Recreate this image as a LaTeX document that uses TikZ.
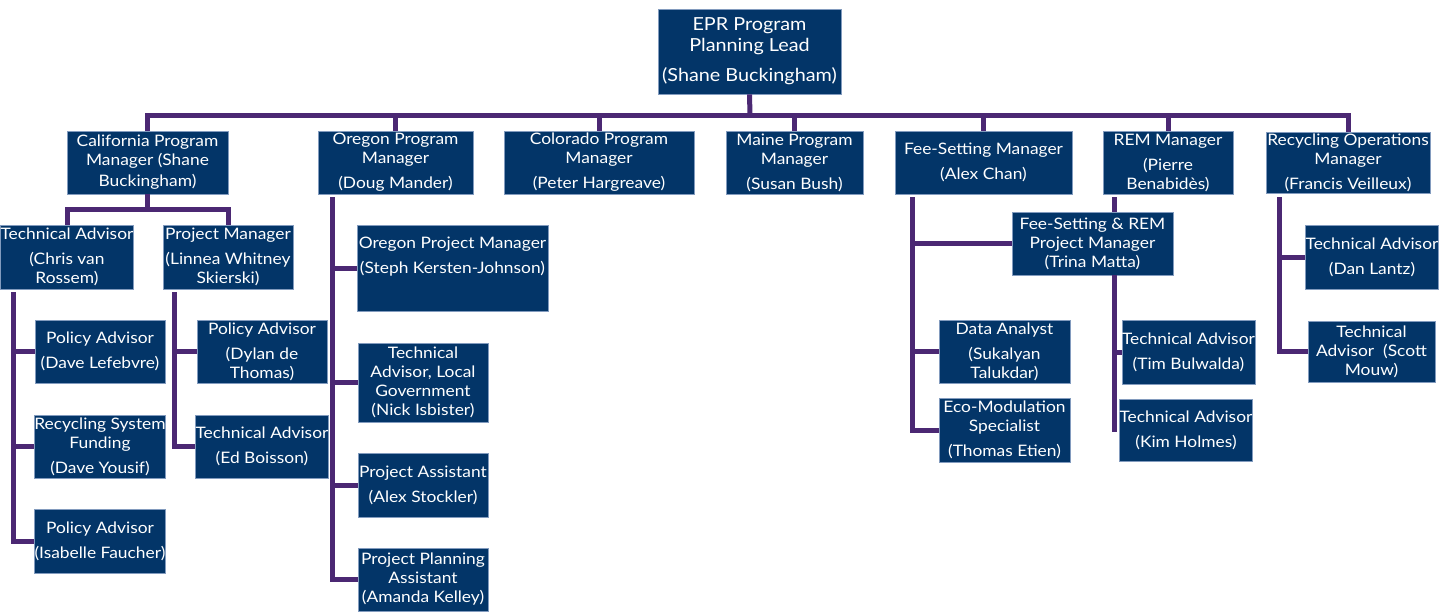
\documentclass[tikz,border=0pt]{standalone}
\usepackage{fontspec}
\setmainfont{Lato}[FakeStretch=1.1]
\usetikzlibrary{calc}
\definecolor{boxfill}{RGB}{3,53,104}
\definecolor{boxedge}{RGB}{130,155,190}
\definecolor{conncol}{RGB}{75,40,115}
\begin{document}
\begin{tikzpicture}[x=1pt,y=-1pt,
  box/.style={draw=boxedge, line width=0.8pt, fill=boxfill, text=white, align=center, inner sep=0pt,
    font=\fontsize{15.8}{19}\selectfont},
  bigbox/.style={box, font=\fontsize{18}{21}\selectfont},
  conn/.style={draw=conncol, line width=5pt}]
\useasboundingbox (0,0) rectangle (1452,611);
% level 0
\node[bigbox, minimum width=183, minimum height=85] (epr) at (749.5,51.5) {EPR Program\\Planning Lead\\[9pt](Shane Buckingham)};
% level 1
\node[box, minimum width=161, minimum height=63] (cal) at (147.5,162.5) {California Program\\Manager (Shane\\[2pt]Buckingham)};
\node[box, minimum width=155, minimum height=63] (ore) at (395.5,162.5) {Oregon Program\\Manager\\[6pt](Doug Mander)};
\node[box, minimum width=190, minimum height=63] (col) at (599,162.5) {Colorado Program\\Manager\\[6pt](Peter Hargreave)};
\node[box, minimum width=137, minimum height=63] (mai) at (794.5,162.5) {Maine Program\\Manager\\[6pt](Susan Bush)};
\node[box, minimum width=177, minimum height=63] (fee) at (983.5,162.5) {Fee-Setting Manager\\[6pt](Alex Chan)};
\node[box, minimum width=130, minimum height=63] (rem) at (1168,162.5) {REM Manager\\[6pt](Pierre\\Benabidès)};
\node[box, minimum width=164, minimum height=61] (rec) at (1348,162.5) {Recycling Operations\\Manager\\[6pt](Francis Veilleux)};
% California subtree
\node[box, minimum width=130, minimum height=64] (chris) at (67,257) {Technical Advisor\\[6pt](Chris van\\Rossem)};
\node[box, minimum width=130, minimum height=64] (lin) at (228,257) {Project Manager\\[6pt](Linnea Whitney\\Skierski)};
\node[box, minimum width=130, minimum height=63] (davel) at (100,351.5) {Policy Advisor\\[6pt](Dave Lefebvre)};
\node[box, minimum width=130, minimum height=63] (rsf) at (100,446.5) {Recycling System\\Funding\\[6pt](Dave Yousif)};
\node[box, minimum width=130, minimum height=64] (isa) at (100,541) {Policy Advisor\\[6pt](Isabelle Faucher)};
\node[box, minimum width=130, minimum height=63] (dyl) at (262,351.5) {Policy Advisor\\[6pt](Dylan de\\Thomas)};
\node[box, minimum width=130, minimum height=63] (ed) at (262,446.5) {Technical Advisor\\[6pt](Ed Boisson)};
% Oregon subtree
\node[box, minimum width=191, minimum height=86] (ste) at (452.5,268) {Oregon Project Manager\\[6pt](Steph Kersten-Johnson)\\[6pt]\mbox{}};
\node[box, minimum width=130, minimum height=79] (nic) at (423,382.5) {Technical\\Advisor, Local\\Government\\(Nick Isbister)};
\node[box, minimum width=130, minimum height=64] (als) at (423,485) {Project Assistant\\[6pt](Alex Stockler)};
\node[box, minimum width=130, minimum height=63] (ama) at (423,579.5) {Project Planning\\Assistant\\(Amanda Kelley)};
% Fee-setting / REM subtree
\node[box, minimum width=161, minimum height=63] (frpm) at (1092.5,243.5) {Fee-Setting \& REM\\Project Manager\\(Trina Matta)};
\node[box, minimum width=131, minimum height=63] (dat) at (1004.5,351.5) {Data Analyst\\[6pt](Sukalyan\\Talukdar)};
\node[box, minimum width=131, minimum height=64] (eco) at (1004.5,430) {Eco-Modulation\\Specialist\\[6pt](Thomas Etien)};
\node[box, minimum width=131, minimum height=64] (tim) at (1188.5,352) {Technical Advisor\\[6pt](Tim Bulwalda)};
\node[box, minimum width=128, minimum height=62] (kim) at (1186,430) {Technical Advisor\\[6pt](Kim Holmes)};
% Recycling subtree
\node[box, minimum width=130, minimum height=64] (dan) at (1372,257) {Technical Advisor\\[6pt](Dan Lantz)};
\node[box, minimum width=127, minimum height=61] (sco) at (1371.5,351.5) {Technical\\Advisor\ \ (Scott\\Mouw)};
% coordinates
\coordinate (bus) at (750,115);
\coordinate (calbar) at (147.5,209);
\coordinate (ctop) at (13,292);
\coordinate (ltop) at (174,292);
\coordinate (otop) at (332,197);
\coordinate (ftop) at (912,197);
\coordinate (remx) at (1114,197);
\coordinate (pmend) at (1114,432);
\coordinate (rtop) at (1279,197);
% connectors
\draw[conn] (epr.south) -- (bus);
\draw[conn] (cal.north) |- (bus) -| (rec.north);
\foreach \n in {ore,col,mai,fee,rem} \draw[conn] (\n.north) -- (\n.north |- bus);
\draw[conn] (cal.south) -- (calbar);
\draw[conn] (chris.north) |- (calbar) -| (lin.north);
\foreach \n in {davel,rsf,isa} \draw[conn] (ctop) |- (\n.west);
\foreach \n in {dyl,ed} \draw[conn] (ltop) |- (\n.west);
\foreach \n in {ste,nic,als,ama} \draw[conn] (otop) |- (\n.west);
\foreach \n in {frpm,dat,eco} \draw[conn] (ftop) |- (\n.west);
\draw[conn] (remx) -- (remx |- frpm.north);
\draw[conn] (frpm.south -| pmend) -- (pmend);
\draw[conn] (pmend |- tim.west) -- (tim.west);
\foreach \n in {dan,sco} \draw[conn] (rtop) |- (\n.west);
\end{tikzpicture}
\end{document}
